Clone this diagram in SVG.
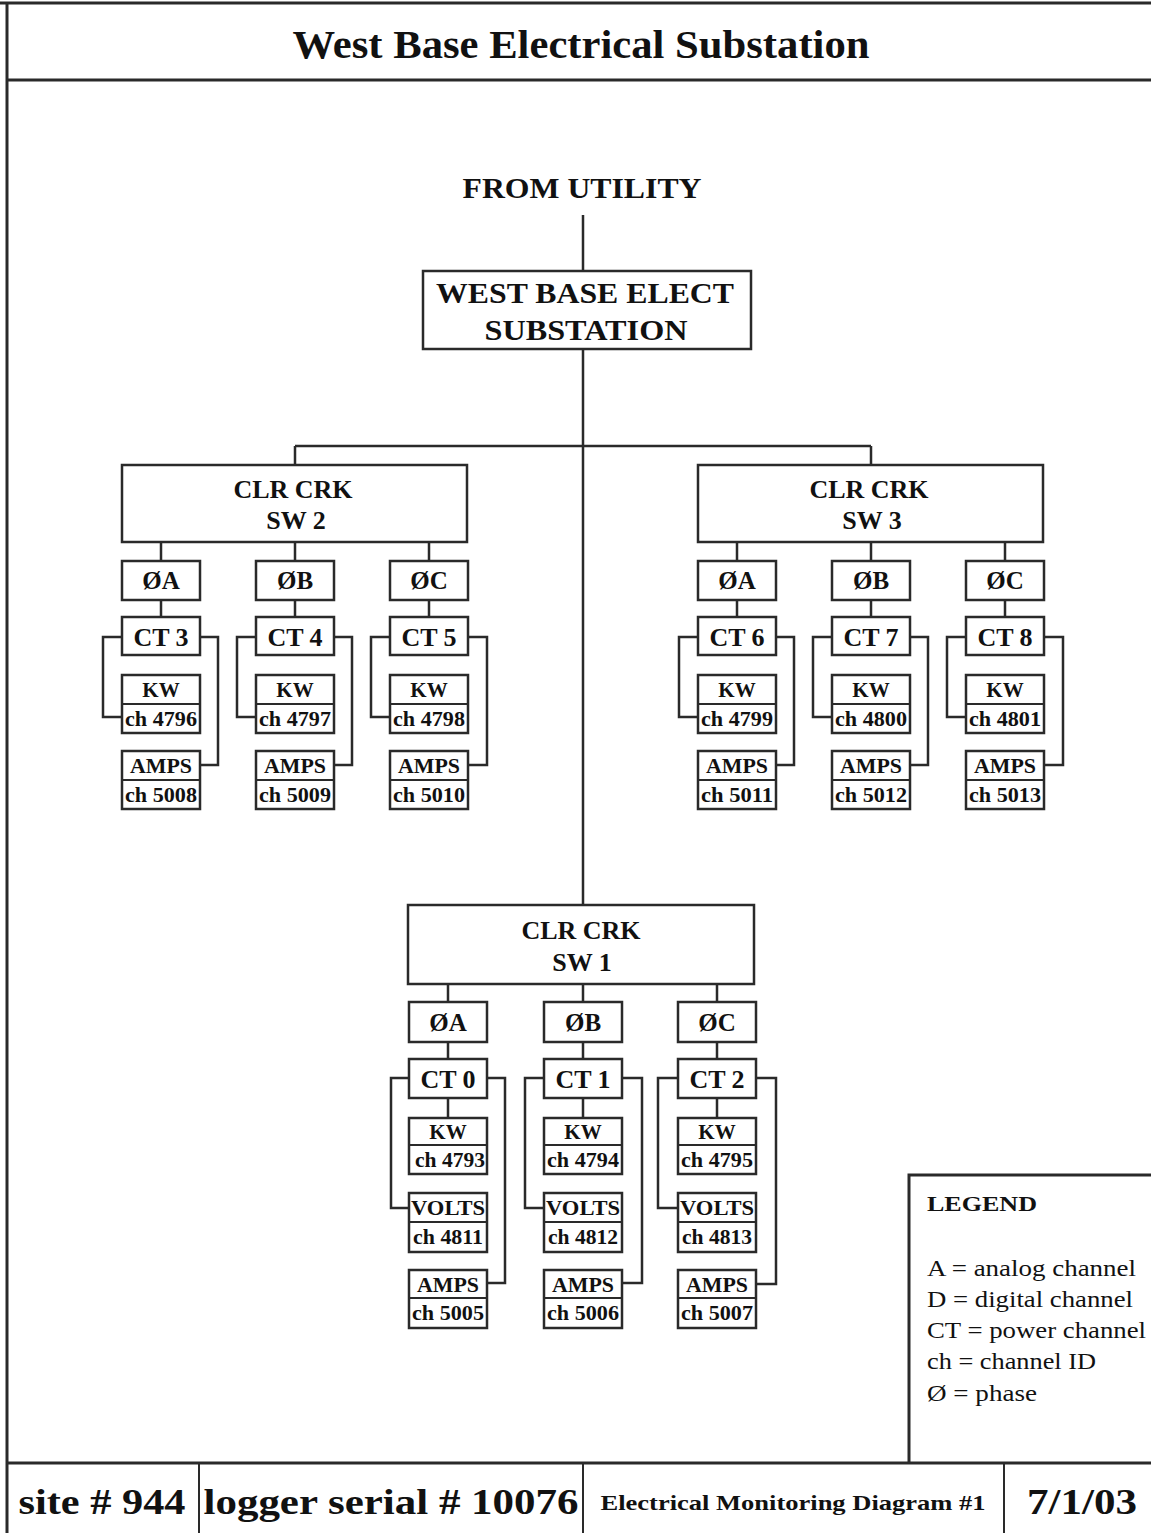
<svg xmlns="http://www.w3.org/2000/svg" width="1151" height="1533" viewBox="0 0 1151 1533">
<style>
.bg{fill:#fff}
.frame{stroke:#2a2a2a;stroke-width:3;fill:none}
.box{fill:#fff;stroke:#2a2a2a;stroke-width:2.5}
.div{stroke:#2a2a2a;stroke-width:2}
.wire{stroke:#2a2a2a;stroke-width:2.5;fill:none}
text{font-family:"Liberation Serif","Times New Roman",serif;fill:#111;text-anchor:middle}
.b{font-weight:bold}
.title{font-size:40px;font-weight:bold}
.big{font-size:29px;font-weight:bold}
.sw{font-size:26px;font-weight:bold}
.ph{font-size:25px;font-weight:bold}
.ct{font-size:26px;font-weight:bold}
.kw{font-size:21px;font-weight:bold}
.ch{font-size:21px;font-weight:bold}
.leg{font-size:23px;text-anchor:start}
.legh{font-size:22px;font-weight:bold;text-anchor:start}
.foot{font-size:36px;font-weight:bold}
.foots{font-size:21px;font-weight:bold}
</style>
<rect class="bg" x="0" y="0" width="1151" height="1533"/>

<g id="frame">
  <line class="frame" x1="0" y1="3" x2="1151" y2="3" stroke="#555"/>
  <line class="frame" x1="7" y1="3" x2="7" y2="1533"/>
  <line class="frame" x1="7" y1="80" x2="1151" y2="80"/>
  <line class="frame" x1="7" y1="1463" x2="1151" y2="1463"/>
  <line class="div" x1="199" y1="1463" x2="199" y2="1533" stroke-width="2.5"/>
  <line class="div" x1="583" y1="1463" x2="583" y2="1533" stroke-width="2.5"/>
  <line class="div" x1="1004" y1="1463" x2="1004" y2="1533" stroke-width="3" stroke="#555"/>
</g>

<g id="title">
  <text class="title" x="581" y="58" textLength="577" lengthAdjust="spacingAndGlyphs">West Base Electrical Substation</text>
</g>

<g id="from-utility">
  <text class="big" x="582" y="198" textLength="239" lengthAdjust="spacingAndGlyphs">FROM UTILITY</text>
</g>

<g id="connectors">
  <path class="wire" d="M583,215 V271 M583,349 V905 M295,446 H871 M295,446 V465 M871,446 V465"/>
  <!-- SW2 phases -->
  <path class="wire" d="M161,542 V561 M295,542 V561 M429,542 V561"/>
  <path class="wire" d="M161,600 V617 M295,600 V617 M429,600 V617"/>
  <path class="wire" d="M122,637 H103 V717 H122 M200,637 H218 V765 H200"/>
  <path class="wire" d="M256,637 H237 V717 H256 M334,637 H352 V765 H334"/>
  <path class="wire" d="M390,637 H371 V717 H390 M468,637 H487 V765 H468"/>
  <!-- SW3 phases -->
  <path class="wire" d="M737,542 V561 M871,542 V561 M1005,542 V561"/>
  <path class="wire" d="M737,600 V617 M871,600 V617 M1005,600 V617"/>
  <path class="wire" d="M698,637 H679 V717 H698 M776,637 H794 V765 H776"/>
  <path class="wire" d="M832,637 H813 V717 H832 M910,637 H928 V765 H910"/>
  <path class="wire" d="M966,637 H947 V717 H966 M1044,637 H1063 V765 H1044"/>
  <!-- SW1 phases -->
  <path class="wire" d="M448,984 V1002 M583,984 V1002 M717,984 V1002"/>
  <path class="wire" d="M448,1042 V1059 M583,1042 V1059 M717,1042 V1059"/>
  <path class="wire" d="M448,1098 V1118 M583,1098 V1118 M717,1098 V1118"/>
  <path class="wire" d="M409,1078 H391 V1208 H409 M487,1078 H505 V1283 H487"/>
  <path class="wire" d="M544,1078 H525 V1208 H544 M622,1078 H642 V1283 H622"/>
  <path class="wire" d="M678,1078 H658 V1208 H678 M756,1078 H776 V1284 H756"/>
</g>

<g id="west-base-substation">
  <rect class="box" x="423" y="271" width="328" height="78"/>
  <text class="big" x="585" y="303" textLength="298" lengthAdjust="spacingAndGlyphs">WEST BASE ELECT</text>
  <text class="big" x="586" y="340" textLength="203" lengthAdjust="spacingAndGlyphs">SUBSTATION</text>
</g>

<!-- ===== SW2 ===== -->
<g id="sw2">
  <rect class="box" x="122" y="465" width="345" height="77"/>
  <text class="sw" x="293" y="498">CLR CRK</text>
  <text class="sw" x="296" y="529">SW 2</text>
</g>
<g id="sw2-phA"><rect class="box" x="122" y="561" width="78" height="39"/><text class="ph" x="161" y="589">ØA</text></g>
<g id="sw2-phB"><rect class="box" x="256" y="561" width="78" height="39"/><text class="ph" x="295" y="589">ØB</text></g>
<g id="sw2-phC"><rect class="box" x="390" y="561" width="78" height="39"/><text class="ph" x="429" y="589">ØC</text></g>
<g id="ct3"><rect class="box" x="122" y="617" width="78" height="38"/><text class="ct" x="161" y="646">CT 3</text></g>
<g id="ct4"><rect class="box" x="256" y="617" width="78" height="38"/><text class="ct" x="295" y="646">CT 4</text></g>
<g id="ct5"><rect class="box" x="390" y="617" width="78" height="38"/><text class="ct" x="429" y="646">CT 5</text></g>
<g id="kw-4796"><rect class="box" x="122" y="675" width="78" height="58"/><line class="div" x1="122" y1="704" x2="200" y2="704"/><text class="kw" x="161" y="697">KW</text><text class="ch" x="161" y="726" textLength="72" lengthAdjust="spacingAndGlyphs">ch 4796</text></g>
<g id="kw-4797"><rect class="box" x="256" y="675" width="78" height="58"/><line class="div" x1="256" y1="704" x2="334" y2="704"/><text class="kw" x="295" y="697">KW</text><text class="ch" x="295" y="726" textLength="72" lengthAdjust="spacingAndGlyphs">ch 4797</text></g>
<g id="kw-4798"><rect class="box" x="390" y="675" width="78" height="58"/><line class="div" x1="390" y1="704" x2="468" y2="704"/><text class="kw" x="429" y="697">KW</text><text class="ch" x="429" y="726" textLength="72" lengthAdjust="spacingAndGlyphs">ch 4798</text></g>
<g id="amps-5008"><rect class="box" x="122" y="751" width="78" height="58"/><line class="div" x1="122" y1="780" x2="200" y2="780"/><text class="kw" x="161" y="773" textLength="62" lengthAdjust="spacingAndGlyphs">AMPS</text><text class="ch" x="161" y="802" textLength="72" lengthAdjust="spacingAndGlyphs">ch 5008</text></g>
<g id="amps-5009"><rect class="box" x="256" y="751" width="78" height="58"/><line class="div" x1="256" y1="780" x2="334" y2="780"/><text class="kw" x="295" y="773" textLength="62" lengthAdjust="spacingAndGlyphs">AMPS</text><text class="ch" x="295" y="802" textLength="72" lengthAdjust="spacingAndGlyphs">ch 5009</text></g>
<g id="amps-5010"><rect class="box" x="390" y="751" width="78" height="58"/><line class="div" x1="390" y1="780" x2="468" y2="780"/><text class="kw" x="429" y="773" textLength="62" lengthAdjust="spacingAndGlyphs">AMPS</text><text class="ch" x="429" y="802" textLength="72" lengthAdjust="spacingAndGlyphs">ch 5010</text></g>

<!-- ===== SW3 ===== -->
<g id="sw3">
  <rect class="box" x="698" y="465" width="345" height="77"/>
  <text class="sw" x="869" y="498">CLR CRK</text>
  <text class="sw" x="872" y="529">SW 3</text>
</g>
<g id="sw3-phA"><rect class="box" x="698" y="561" width="78" height="39"/><text class="ph" x="737" y="589">ØA</text></g>
<g id="sw3-phB"><rect class="box" x="832" y="561" width="78" height="39"/><text class="ph" x="871" y="589">ØB</text></g>
<g id="sw3-phC"><rect class="box" x="966" y="561" width="78" height="39"/><text class="ph" x="1005" y="589">ØC</text></g>
<g id="ct6"><rect class="box" x="698" y="617" width="78" height="38"/><text class="ct" x="737" y="646">CT 6</text></g>
<g id="ct7"><rect class="box" x="832" y="617" width="78" height="38"/><text class="ct" x="871" y="646">CT 7</text></g>
<g id="ct8"><rect class="box" x="966" y="617" width="78" height="38"/><text class="ct" x="1005" y="646">CT 8</text></g>
<g id="kw-4799"><rect class="box" x="698" y="675" width="78" height="58"/><line class="div" x1="698" y1="704" x2="776" y2="704"/><text class="kw" x="737" y="697">KW</text><text class="ch" x="737" y="726" textLength="72" lengthAdjust="spacingAndGlyphs">ch 4799</text></g>
<g id="kw-4800"><rect class="box" x="832" y="675" width="78" height="58"/><line class="div" x1="832" y1="704" x2="910" y2="704"/><text class="kw" x="871" y="697">KW</text><text class="ch" x="871" y="726" textLength="72" lengthAdjust="spacingAndGlyphs">ch 4800</text></g>
<g id="kw-4801"><rect class="box" x="966" y="675" width="78" height="58"/><line class="div" x1="966" y1="704" x2="1044" y2="704"/><text class="kw" x="1005" y="697">KW</text><text class="ch" x="1005" y="726" textLength="72" lengthAdjust="spacingAndGlyphs">ch 4801</text></g>
<g id="amps-5011"><rect class="box" x="698" y="751" width="78" height="58"/><line class="div" x1="698" y1="780" x2="776" y2="780"/><text class="kw" x="737" y="773" textLength="62" lengthAdjust="spacingAndGlyphs">AMPS</text><text class="ch" x="737" y="802" textLength="72" lengthAdjust="spacingAndGlyphs">ch 5011</text></g>
<g id="amps-5012"><rect class="box" x="832" y="751" width="78" height="58"/><line class="div" x1="832" y1="780" x2="910" y2="780"/><text class="kw" x="871" y="773" textLength="62" lengthAdjust="spacingAndGlyphs">AMPS</text><text class="ch" x="871" y="802" textLength="72" lengthAdjust="spacingAndGlyphs">ch 5012</text></g>
<g id="amps-5013"><rect class="box" x="966" y="751" width="78" height="58"/><line class="div" x1="966" y1="780" x2="1044" y2="780"/><text class="kw" x="1005" y="773" textLength="62" lengthAdjust="spacingAndGlyphs">AMPS</text><text class="ch" x="1005" y="802" textLength="72" lengthAdjust="spacingAndGlyphs">ch 5013</text></g>

<!-- ===== SW1 ===== -->
<g id="sw1">
  <rect class="box" x="408" y="905" width="346" height="79"/>
  <text class="sw" x="581" y="939">CLR CRK</text>
  <text class="sw" x="582" y="971">SW 1</text>
</g>
<g id="sw1-phA"><rect class="box" x="409" y="1002" width="78" height="40"/><text class="ph" x="448" y="1031">ØA</text></g>
<g id="sw1-phB"><rect class="box" x="544" y="1002" width="78" height="40"/><text class="ph" x="583" y="1031">ØB</text></g>
<g id="sw1-phC"><rect class="box" x="678" y="1002" width="78" height="40"/><text class="ph" x="717" y="1031">ØC</text></g>
<g id="ct0"><rect class="box" x="409" y="1059" width="78" height="39"/><text class="ct" x="448" y="1088">CT 0</text></g>
<g id="ct1"><rect class="box" x="544" y="1059" width="78" height="39"/><text class="ct" x="583" y="1088">CT 1</text></g>
<g id="ct2"><rect class="box" x="678" y="1059" width="78" height="39"/><text class="ct" x="717" y="1088">CT 2</text></g>
<g id="kw-4793"><rect class="box" x="409" y="1118" width="78" height="56"/><line class="div" x1="409" y1="1145" x2="487" y2="1145"/><text class="kw" x="448" y="1139">KW</text><text class="ch" x="450" y="1167" textLength="70" lengthAdjust="spacingAndGlyphs">ch 4793</text></g>
<g id="kw-4794"><rect class="box" x="544" y="1118" width="78" height="56"/><line class="div" x1="544" y1="1145" x2="622" y2="1145"/><text class="kw" x="583" y="1139">KW</text><text class="ch" x="583" y="1167" textLength="72" lengthAdjust="spacingAndGlyphs">ch 4794</text></g>
<g id="kw-4795"><rect class="box" x="678" y="1118" width="78" height="56"/><line class="div" x1="678" y1="1145" x2="756" y2="1145"/><text class="kw" x="717" y="1139">KW</text><text class="ch" x="717" y="1167" textLength="72" lengthAdjust="spacingAndGlyphs">ch 4795</text></g>
<g id="volts-4811"><rect class="box" x="409" y="1193" width="78" height="59"/><line class="div" x1="409" y1="1222" x2="487" y2="1222"/><text class="kw" x="448" y="1215" textLength="74" lengthAdjust="spacingAndGlyphs">VOLTS</text><text class="ch" x="448" y="1244" textLength="70" lengthAdjust="spacingAndGlyphs">ch 4811</text></g>
<g id="volts-4812"><rect class="box" x="544" y="1193" width="78" height="59"/><line class="div" x1="544" y1="1222" x2="622" y2="1222"/><text class="kw" x="583" y="1215" textLength="74" lengthAdjust="spacingAndGlyphs">VOLTS</text><text class="ch" x="583" y="1244" textLength="70" lengthAdjust="spacingAndGlyphs">ch 4812</text></g>
<g id="volts-4813"><rect class="box" x="678" y="1193" width="78" height="59"/><line class="div" x1="678" y1="1222" x2="756" y2="1222"/><text class="kw" x="717" y="1215" textLength="74" lengthAdjust="spacingAndGlyphs">VOLTS</text><text class="ch" x="717" y="1244" textLength="70" lengthAdjust="spacingAndGlyphs">ch 4813</text></g>
<g id="amps-5005"><rect class="box" x="409" y="1270" width="78" height="58"/><line class="div" x1="409" y1="1298" x2="487" y2="1298"/><text class="kw" x="448" y="1292" textLength="62" lengthAdjust="spacingAndGlyphs">AMPS</text><text class="ch" x="448" y="1320" textLength="72" lengthAdjust="spacingAndGlyphs">ch 5005</text></g>
<g id="amps-5006"><rect class="box" x="544" y="1270" width="78" height="58"/><line class="div" x1="544" y1="1298" x2="622" y2="1298"/><text class="kw" x="583" y="1292" textLength="62" lengthAdjust="spacingAndGlyphs">AMPS</text><text class="ch" x="583" y="1320" textLength="72" lengthAdjust="spacingAndGlyphs">ch 5006</text></g>
<g id="amps-5007"><rect class="box" x="678" y="1270" width="78" height="58"/><line class="div" x1="678" y1="1298" x2="756" y2="1298"/><text class="kw" x="717" y="1292" textLength="62" lengthAdjust="spacingAndGlyphs">AMPS</text><text class="ch" x="717" y="1320" textLength="72" lengthAdjust="spacingAndGlyphs">ch 5007</text></g>

<g id="legend">
  <path class="frame" d="M909,1463 V1175 H1151" stroke="#444"/>
  <text class="legh" x="927" y="1211" textLength="110" lengthAdjust="spacingAndGlyphs">LEGEND</text>
  <text class="leg" x="927" y="1276" textLength="209" lengthAdjust="spacingAndGlyphs">A = analog channel</text>
  <text class="leg" x="927" y="1307" textLength="206" lengthAdjust="spacingAndGlyphs">D =  digital channel</text>
  <text class="leg" x="927" y="1338" textLength="219" lengthAdjust="spacingAndGlyphs">CT = power channel</text>
  <text class="leg" x="927" y="1369" textLength="169" lengthAdjust="spacingAndGlyphs">ch = channel ID</text>
  <text class="leg" x="927" y="1401" textLength="110" lengthAdjust="spacingAndGlyphs">Ø = phase</text>
</g>

<g id="footer">
  <text class="foot" x="102" y="1514" textLength="167" lengthAdjust="spacingAndGlyphs">site # 944</text>
  <text class="foot" x="391" y="1514" textLength="375" lengthAdjust="spacingAndGlyphs">logger serial # 10076</text>
  <text class="foots" x="793" y="1510" textLength="385" lengthAdjust="spacingAndGlyphs">Electrical Monitoring Diagram #1</text>
  <text class="foot" x="1082" y="1514" textLength="110" lengthAdjust="spacingAndGlyphs">7/1/03</text>
</g>
</svg>
